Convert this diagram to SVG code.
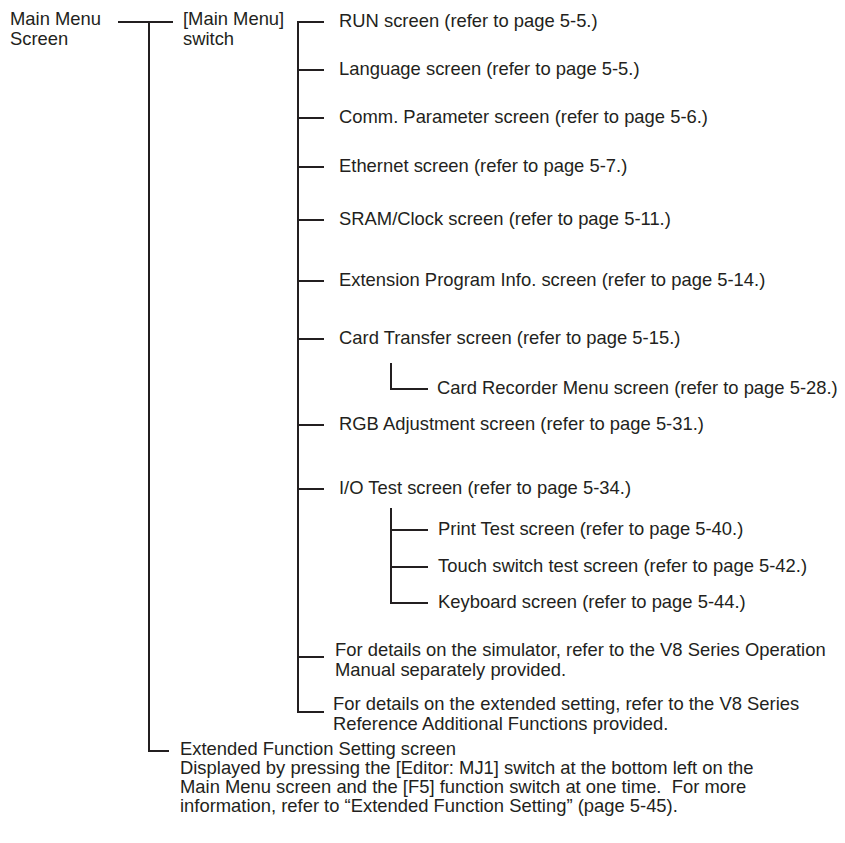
<svg xmlns="http://www.w3.org/2000/svg" width="845" height="843" viewBox="0 0 845 843">
<style>
text{font-family:"Liberation Sans",Arial,sans-serif;font-size:18.4px;fill:#231f20}
.c line,.c polyline{stroke:#231f20;stroke-width:2;fill:none}
</style>
<rect width="845" height="843" fill="#fff"/>
<g class="c" id="connectors">
<line x1="118" y1="22" x2="173" y2="22"/>
<polyline points="149,22 149,751 169,751"/>
<polyline points="324,22 298,22 298,712 324,712"/>
<line x1="298" y1="70" x2="324" y2="70"/>
<line x1="298" y1="118" x2="324" y2="118"/>
<line x1="298" y1="167" x2="324" y2="167"/>
<line x1="298" y1="220" x2="324" y2="220"/>
<line x1="298" y1="281" x2="324" y2="281"/>
<line x1="298" y1="339" x2="324" y2="339"/>
<line x1="298" y1="425" x2="324" y2="425"/>
<line x1="298" y1="489" x2="324" y2="489"/>
<line x1="298" y1="657" x2="324" y2="657"/>
<polyline points="391,363 391,389 428,389"/>
<polyline points="391,508 391,603 428,603"/>
<line x1="391" y1="530" x2="428" y2="530"/>
<line x1="391" y1="567" x2="428" y2="567"/>
</g>
<g id="main-menu-screen"><text x="10" y="25">Main Menu</text><text x="10" y="45">Screen</text></g>
<g id="main-menu-switch"><text x="183" y="25">[Main Menu]</text><text x="183" y="45">switch</text></g>
<g id="run"><text x="339" y="27">RUN screen (refer to page 5-5.)</text></g>
<g id="language"><text x="339" y="75">Language screen (refer to page 5-5.)</text></g>
<g id="comm"><text x="339" y="123">Comm. Parameter screen (refer to page 5-6.)</text></g>
<g id="ethernet"><text x="339" y="172">Ethernet screen (refer to page 5-7.)</text></g>
<g id="sram"><text x="339" y="225">SRAM/Clock screen (refer to page 5-11.)</text></g>
<g id="extension"><text x="339" y="286">Extension Program Info. screen (refer to page 5-14.)</text></g>
<g id="card-transfer"><text x="339" y="344">Card Transfer screen (refer to page 5-15.)</text></g>
<g id="card-recorder"><text x="437" y="394">Card Recorder Menu screen (refer to page 5-28.)</text></g>
<g id="rgb"><text x="339" y="430">RGB Adjustment screen (refer to page 5-31.)</text></g>
<g id="io-test"><text x="339" y="494">I/O Test screen (refer to page 5-34.)</text></g>
<g id="print-test"><text x="438" y="535">Print Test screen (refer to page 5-40.)</text></g>
<g id="touch-test"><text x="438" y="572">Touch switch test screen (refer to page 5-42.)</text></g>
<g id="keyboard"><text x="438" y="608">Keyboard screen (refer to page 5-44.)</text></g>
<g id="simulator"><text x="335" y="656">For details on the simulator, refer to the V8 Series Operation</text><text x="335" y="676">Manual separately provided.</text></g>
<g id="extended-setting"><text x="333" y="710">For details on the extended setting, refer to the V8 Series</text><text x="333" y="730">Reference Additional Functions provided.</text></g>
<g id="extended-function"><text x="180" y="755">Extended Function Setting screen</text><text x="180" y="774">Displayed by pressing the [Editor: MJ1] switch at the bottom left on the</text><text x="180" y="793">Main Menu screen and the [F5] function switch at one time.&#160; For more</text><text x="180" y="812">information, refer to “Extended Function Setting” (page 5-45).</text></g>
</svg>
